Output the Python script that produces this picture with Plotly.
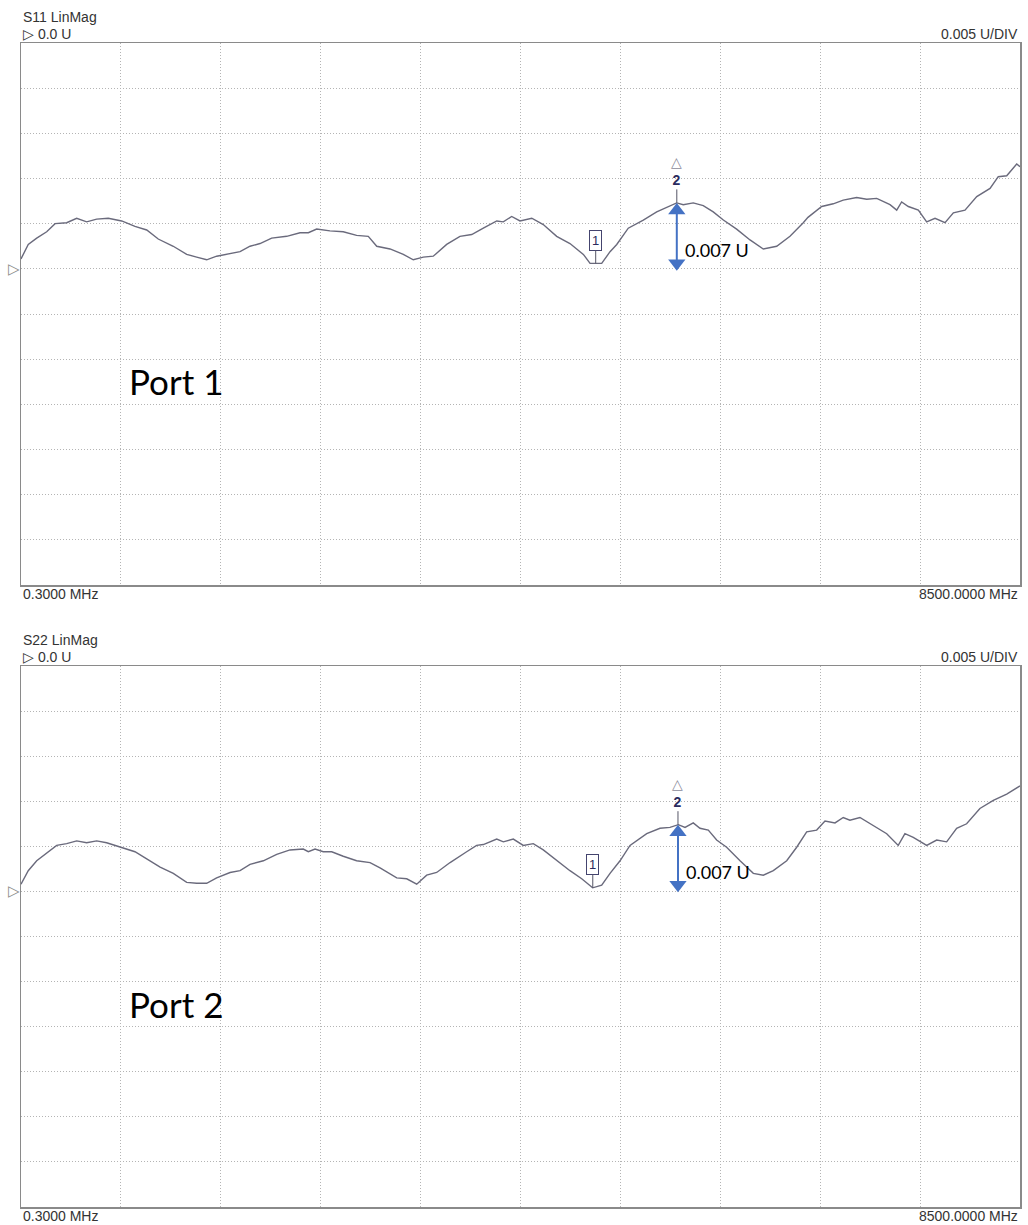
import plotly.graph_objects as go

# ---------------- data ----------------
F_START = 0.3        # MHz
F_STOP = 8500.0      # MHz
REF_VALUE = 0.0      # U
SCALE_PER_DIV = 0.005  # U/DIV
N_XDIV = 10
DIV_ABOVE_REF = 5
DIV_BELOW_REF = 7

S11_FREQ = [0.3, 62, 134, 219, 290, 389, 474, 559, 644, 743, 857, 970, 1070, 1168, 1296, 1410,
            1495, 1580, 1665, 1779, 1864, 1949, 2034, 2133, 2261, 2374, 2445, 2516, 2629, 2742,
            2856, 2955, 3027, 3140, 3253, 3338, 3423, 3508, 3622, 3735, 3835, 3934, 4048, 4104,
            4175, 4246, 4346, 4444, 4558, 4671, 4785, 4842, 4941, 5012, 5069, 5167, 5295, 5409,
            5508, 5579, 5635, 5720, 5805, 5890, 5976, 6089, 6203, 6316, 6430, 6543, 6656, 6696,
            6813, 6911, 6996, 7110, 7196, 7281, 7394, 7451, 7493, 7550, 7635, 7706, 7777, 7862,
            7933, 8032, 8132, 8245, 8315, 8387, 8472, 8500]
S11_VAL = [0.0011, 0.0027, 0.0034, 0.0041, 0.0050, 0.0051, 0.0056, 0.0052, 0.0055, 0.0056, 0.0053,
           0.0047, 0.0043, 0.0033, 0.0025, 0.0016, 0.0013, 0.0010, 0.0014, 0.0017, 0.0019, 0.0025,
           0.0028, 0.0034, 0.0036, 0.0040, 0.0040, 0.0044, 0.0042, 0.0041, 0.0037, 0.0036, 0.0025,
           0.0022, 0.0016, 0.0010, 0.0013, 0.0014, 0.0027, 0.0036, 0.0038, 0.0045, 0.0053, 0.0052,
           0.0058, 0.0053, 0.0056, 0.0049, 0.0036, 0.0028, 0.0016, 0.0006, 0.0006, 0.0019, 0.0027,
           0.0045, 0.0054, 0.0063, 0.0069, 0.0073, 0.0071, 0.0073, 0.0070, 0.0063, 0.0054, 0.0044,
           0.0032, 0.0022, 0.0025, 0.0036, 0.0051, 0.0057, 0.0069, 0.0072, 0.0076, 0.0079, 0.0077,
           0.0078, 0.0071, 0.0065, 0.0074, 0.0069, 0.0065, 0.0052, 0.0056, 0.0051, 0.0062, 0.0065,
           0.0080, 0.0089, 0.0102, 0.0103, 0.0116, 0.0113]

S22_FREQ = [0.3, 62, 134, 219, 304, 389, 474, 559, 644, 729, 843, 970, 1070, 1184, 1296, 1410,
            1495, 1580, 1665, 1779, 1864, 1949, 2062, 2176, 2289, 2402, 2445, 2502, 2572, 2644,
            2742, 2856, 2970, 3055, 3197, 3282, 3367, 3452, 3537, 3651, 3792, 3877, 3934, 4048,
            4104, 4189, 4274, 4359, 4444, 4558, 4671, 4771, 4864, 4941, 5012, 5097, 5182, 5324,
            5437, 5522, 5593, 5650, 5720, 5777, 5848, 5919, 6004, 6118, 6231, 6316, 6401, 6515,
            6600, 6685, 6770, 6841, 6926, 6996, 7053, 7138, 7223, 7366, 7464, 7521, 7592, 7706,
            7791, 7876, 7961, 8046, 8159, 8273, 8387, 8500]
S22_VAL = [0.0008, 0.0023, 0.0034, 0.0042, 0.0051, 0.0053, 0.0056, 0.0054, 0.0056, 0.0054, 0.0049,
           0.0044, 0.0036, 0.0027, 0.0020, 0.0010, 0.0009, 0.0009, 0.0015, 0.0021, 0.0023, 0.0030,
           0.0034, 0.0041, 0.0046, 0.0047, 0.0044, 0.0047, 0.0044, 0.0044, 0.0039, 0.0034, 0.0032,
           0.0026, 0.0015, 0.0014, 0.0008, 0.0018, 0.0021, 0.0032, 0.0044, 0.0051, 0.0052, 0.0058,
           0.0055, 0.0058, 0.0051, 0.0053, 0.0046, 0.0034, 0.0023, 0.0014, 0.0004, 0.0007, 0.0020,
           0.0034, 0.0051, 0.0064, 0.0070, 0.0071, 0.0074, 0.0071, 0.0076, 0.0070, 0.0068, 0.0057,
           0.0049, 0.0034, 0.0020, 0.0018, 0.0023, 0.0034, 0.0049, 0.0066, 0.0068, 0.0078, 0.0076,
           0.0082, 0.0079, 0.0082, 0.0075, 0.0064, 0.0051, 0.0064, 0.0060, 0.0051, 0.0057, 0.0055,
           0.0070, 0.0075, 0.0092, 0.0101, 0.0108, 0.0117]

# markers: [marker 1, marker 2]
S11_MARKER_FREQ = [4890, 5580]
S11_MARKER_VAL = [0.0006, 0.0073]
S22_MARKER_FREQ = [4865, 5590]
S22_MARKER_VAL = [0.0004, 0.0074]
DELTA_LABEL = "0.007 U"
DELTA_ARROW_SPAN = 0.0075

TITLES = ["S11 LinMag", "S22 LinMag"]
PORT_LABELS = ["Port 1", "Port 2"]
REF_LABEL = "\u25b7 0.0 U"
SCALE_LABEL = "0.005 U/DIV"
START_LABEL = "0.3000 MHz"
STOP_LABEL = "8500.0000 MHz"

assert len(S11_FREQ) == len(S11_VAL) and len(S22_FREQ) == len(S22_VAL)

# ---------------- layout geometry ----------------
W, H = 1028, 1225
X_DOM = [21 / W, 1020 / W]
PANELS = [  # (top px, bottom px)
    (43, 585),
    (666, 1207),
]
TRACE_COLOR = "#6a6a7c"
GRID_COLOR = "#b4b4b4"
GRID_DASH = "1px,2px"
BORDER_COLOR = "#8a8a8a"
TEXT_COLOR = "#333333"
BLUE = "#4472C4"
HDR_FONT = "Liberation Sans, Arial, sans-serif"
OFFICE_FONT = "Lato, Carlito, Calibri, sans-serif"

y_lo = REF_VALUE - DIV_BELOW_REF * SCALE_PER_DIV
y_hi = REF_VALUE + DIV_ABOVE_REF * SCALE_PER_DIV

fig = go.Figure()
annotations = []

panel_data = [
    (S11_FREQ, S11_VAL, S11_MARKER_FREQ, S11_MARKER_VAL),
    (S22_FREQ, S22_VAL, S22_MARKER_FREQ, S22_MARKER_VAL),
]

for i, ((top_px, bot_px), (fr, vals, mf, mv)) in enumerate(zip(PANELS, panel_data)):
    sfx = "" if i == 0 else str(i + 1)
    xa, ya = "x" + sfx, "y" + sfx
    ydom = [1 - bot_px / H, 1 - top_px / H]
    u_per_px = (y_hi - y_lo) / (bot_px - top_px)

    fig.update_layout(**{
        "xaxis" + sfx: dict(domain=X_DOM, anchor=ya, range=[F_START, F_STOP],
                            tick0=F_START, dtick=(F_STOP - F_START) / N_XDIV,
                            showgrid=True, gridcolor=GRID_COLOR, griddash=GRID_DASH, gridwidth=1,
                            showticklabels=False, ticks="", zeroline=False,
                            showline=True, mirror=True, linecolor=BORDER_COLOR, linewidth=1.5),
        "yaxis" + sfx: dict(domain=ydom, anchor=xa, range=[y_lo, y_hi],
                            tick0=REF_VALUE, dtick=SCALE_PER_DIV,
                            showgrid=True, gridcolor=GRID_COLOR, griddash=GRID_DASH, gridwidth=1,
                            showticklabels=False, ticks="", zeroline=False,
                            showline=True, mirror=True, linecolor=BORDER_COLOR, linewidth=1.5),
    })

    # trace
    fig.add_trace(go.Scatter(x=fr, y=vals, xaxis=xa, yaxis=ya, mode="lines",
                             line=dict(color=TRACE_COLOR, width=1.4), hoverinfo="skip"))

    # blue delta arrow
    top_v = mv[1]
    bot_v = mv[1] - DELTA_ARROW_SPAN
    fig.add_trace(go.Scatter(x=[mf[1], mf[1]], y=[top_v - 6 * u_per_px, bot_v + 6 * u_per_px],
                             xaxis=xa, yaxis=ya, mode="lines",
                             line=dict(color=BLUE, width=2), hoverinfo="skip"))
    fig.add_trace(go.Scatter(x=[mf[1], mf[1]], y=[top_v - 7.5 * u_per_px, bot_v + 7.5 * u_per_px],
                             xaxis=xa, yaxis=ya, mode="markers",
                             marker=dict(symbol=["triangle-up", "triangle-down"], size=15,
                                         color=BLUE, line=dict(width=0)),
                             hoverinfo="skip"))

    # marker 1 (boxed label with stem)
    annotations.append(dict(x=mf[0], y=mv[0], xref=xa, yref=ya, text="1",
                            showarrow=True, arrowhead=0, arrowwidth=1, arrowcolor="#555566",
                            ax=0, ay=-23, bordercolor="#44446e", borderwidth=1, borderpad=2,
                            bgcolor="white",
                            font=dict(family=HDR_FONT, size=13, color="#2b2b5e")))
    # marker 2 (delta marker)
    annotations.append(dict(x=mf[1], y=mv[1], xref=xa, yref=ya,
                            text="<span style='color:#8a8a9a'>\u25b3</span><br><b>2</b>",
                            showarrow=True, arrowhead=0, arrowwidth=1, arrowcolor="#555566",
                            ax=0, ay=-32,
                            font=dict(family=HDR_FONT, size=14, color="#2b2b5e")))
    # delta label
    annotations.append(dict(x=mf[1], y=mv[1] - 47 * u_per_px, xref=xa, yref=ya,
                            text=DELTA_LABEL, showarrow=False, xanchor="left", yanchor="middle",
                            xshift=6, font=dict(family=OFFICE_FONT, size=18, color="black")))
    # port label
    annotations.append(dict(x=0.106, y=0.376, xref=xa + " domain", yref=ya + " domain",
                            text=PORT_LABELS[i], showarrow=False, xanchor="left",
                            yanchor="middle",
                            font=dict(family=OFFICE_FONT, size=35, color="black")))
    # reference triangle at left
    annotations.append(dict(x=14 / W, y=REF_VALUE, xref="paper", yref=ya, text="\u25b7",
                            showarrow=False, xanchor="center", yanchor="middle",
                            font=dict(family="DejaVu Sans", size=15, color="#8a8a8a")))

    # header / footer text
    def ptext(txt, xp, ypx, anchor):
        annotations.append(dict(x=xp, y=1 - ypx / H, xref="paper", yref="paper", text=txt,
                                showarrow=False, xanchor=anchor, yanchor="middle",
                                font=dict(family=HDR_FONT, size=14, color=TEXT_COLOR)))

    ptext(TITLES[i], X_DOM[0], top_px - 26, "left")
    ptext(REF_LABEL, X_DOM[0], top_px - 9, "left")
    ptext(SCALE_LABEL, X_DOM[1], top_px - 9, "right")
    ptext(START_LABEL, X_DOM[0], bot_px + 9, "left")
    ptext(STOP_LABEL, X_DOM[1], bot_px + 9, "right")

fig.update_layout(width=W, height=H, autosize=False,
                  margin=dict(l=0, r=0, t=0, b=0),
                  paper_bgcolor="white", plot_bgcolor="white",
                  showlegend=False, hovermode=False,
                  annotations=annotations)

fig.write_html("out.html",
               config={"displayModeBar": False, "staticPlot": True},
               post_script="document.body.style.margin='0';"
                           "document.body.style.overflow='hidden';")
